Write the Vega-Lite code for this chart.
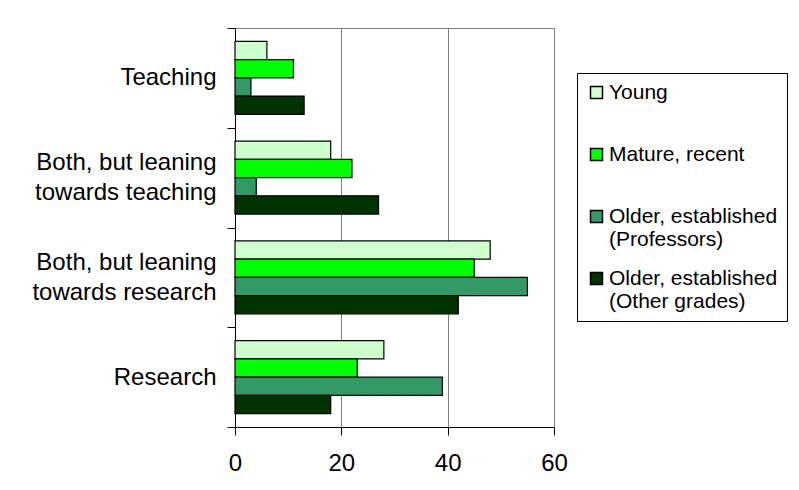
{
  "$schema": "https://vega.github.io/schema/vega-lite/v6.json",
  "width": 319,
  "height": 399,
  "autosize": {"type": "none"},
  "padding": {"left": 235, "top": 28, "right": 245, "bottom": 63},
  "background": "white",
  "config": {
    "font": "Liberation Sans",
    "view": {"stroke": "#808080", "strokeWidth": 1}
  },
  "data": {
    "values": [
      {"role": "Teaching", "group": "Young", "pct": 6},
      {"role": "Teaching", "group": "Mature, recent", "pct": 11},
      {"role": "Teaching", "group": "Older, established (Professors)", "pct": 3},
      {"role": "Teaching", "group": "Older, established (Other grades)", "pct": 13},
      {"role": "Both, but leaning towards teaching", "group": "Young", "pct": 18},
      {"role": "Both, but leaning towards teaching", "group": "Mature, recent", "pct": 22},
      {"role": "Both, but leaning towards teaching", "group": "Older, established (Professors)", "pct": 4},
      {"role": "Both, but leaning towards teaching", "group": "Older, established (Other grades)", "pct": 27},
      {"role": "Both, but leaning towards research", "group": "Young", "pct": 48},
      {"role": "Both, but leaning towards research", "group": "Mature, recent", "pct": 45},
      {"role": "Both, but leaning towards research", "group": "Older, established (Professors)", "pct": 55},
      {"role": "Both, but leaning towards research", "group": "Older, established (Other grades)", "pct": 42},
      {"role": "Research", "group": "Young", "pct": 28},
      {"role": "Research", "group": "Mature, recent", "pct": 23},
      {"role": "Research", "group": "Older, established (Professors)", "pct": 39},
      {"role": "Research", "group": "Older, established (Other grades)", "pct": 18}
    ]
  },
  "mark": {"type": "bar", "stroke": "black", "strokeWidth": 1.2},
  "encoding": {
    "y": {
      "field": "role",
      "type": "nominal",
      "sort": ["Teaching", "Both, but leaning towards teaching", "Both, but leaning towards research", "Research"],
      "scale": {"paddingInner": 0, "paddingOuter": 0},
      "axis": {
        "title": null,
        "tickBand": "extent",
        "domainColor": "black",
        "tickColor": "black",
        "tickSize": 8,
        "labelFontSize": 24,
        "labelColor": "black",
        "labelPadding": 11,
        "labelLimit": 300,
        "labelLineHeight": 15,
        "labelOffset": -15,
        "labelExpr": "indexof(datum.label, 'leaning ') > 0 ? ['Both, but leaning', '\u200b', substring(datum.label, 18)] : ['\u200b', datum.label]"
      }
    },
    "yOffset": {
      "field": "group",
      "type": "nominal",
      "sort": ["Young", "Mature, recent", "Older, established (Professors)", "Older, established (Other grades)"],
      "scale": {"paddingInner": 0, "paddingOuter": 0.74}
    },
    "x": {
      "field": "pct",
      "type": "quantitative",
      "scale": {"domain": [0, 60], "nice": false},
      "axis": {
        "title": null,
        "values": [0, 20, 40, 60],
        "grid": true,
        "gridColor": "#808080",
        "gridOpacity": 1,
        "domainColor": "black",
        "tickColor": "black",
        "tickSize": 8,
        "labelFontSize": 24,
        "labelColor": "black",
        "labelPadding": 16,
        "labelFlush": false
      }
    },
    "fill": {
      "field": "group",
      "type": "nominal",
      "sort": ["Young", "Mature, recent", "Older, established (Professors)", "Older, established (Other grades)"],
      "scale": {"range": ["#CCFFCC", "#00FF00", "#339966", "#003300"]},
      "legend": {
        "title": null,
        "orient": "none",
        "legendX": 342,
        "legendY": 45,
        "strokeColor": "black",
        "fillColor": "white",
        "padding": 9,
        "symbolType": "square",
        "symbolSize": 144,
        "symbolStrokeColor": "black",
        "symbolStrokeWidth": 1.5,
        "symbolOpacity": 1,
        "labelFontSize": 21,
        "labelColor": "black",
        "labelOffset": 2,
        "labelLimit": 300,
        "rowPadding": 17,
        "labelExpr": "indexof(datum.label, 'established ') > 0 ? ['Older, established', substring(datum.label, 19)] : [datum.label, '\u200b']"
      }
    }
  }
}
